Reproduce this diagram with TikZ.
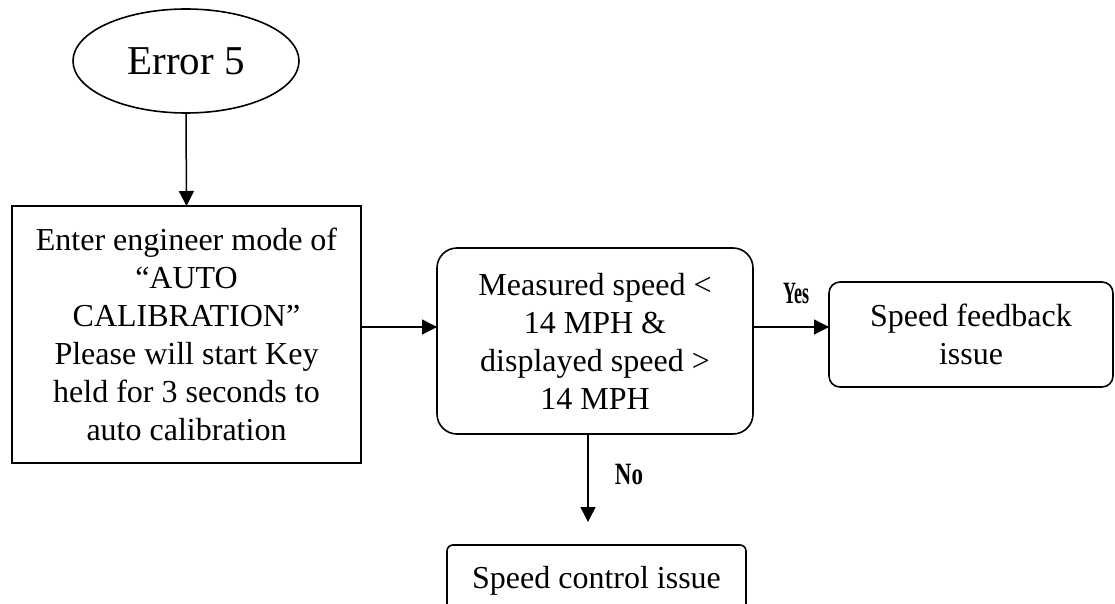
\documentclass[tikz,border=0pt]{standalone}
\usepackage{fontspec}
\setmainfont{Liberation Serif}
\usetikzlibrary{arrows.meta,shapes.geometric}
\begin{document}
\begin{tikzpicture}[x=1pt,y=-1pt,
  every node/.style={inner sep=0pt, outer sep=0pt},
  body/.style={font=\fontsize{32}{38}\selectfont, align=center},
  stepbox/.style={body, draw, line width=1.6pt},
  roundbox/.style={stepbox, rounded corners=#1},
  startnode/.style={ellipse, draw, line width=1.6pt, font=\fontsize{41}{48}\selectfont},
  flow/.style={line width=1.5pt, -{Triangle[length=15pt,width=15pt]}},
  answer/.style={font=\bfseries\fontsize{31}{34}\selectfont}
]
\clip (0,0) rectangle (1115,604);
\fill[white] (0,0) rectangle (1115,604);

\node[startnode, minimum width=226pt, minimum height=104pt] (err) at (186,61) {Error 5};

\node[stepbox, minimum width=349pt, minimum height=257pt] (enter) at (186.5,334.5)
  {Enter engineer mode of\\``AUTO\\CALIBRATION''\\Please will start Key\\held for 3 seconds to\\auto calibration};

\node[roundbox=20pt, minimum width=316pt, minimum height=186pt] (check) at (595,341)
  {Measured speed <\\14 MPH \&\\displayed speed >\\14 MPH};

\node[roundbox=11pt, minimum width=284pt, minimum height=105pt] (feedback) at (971,334.5)
  {Speed feedback\\issue};

\node[roundbox=6pt, minimum width=299pt, minimum height=72pt, anchor=north] (control) at (596.5,545)
  {Speed control issue};

\coordinate (noend) at (588,522);

\draw[flow] (err.south) -- (enter.north);
\draw[flow] (enter.east |- 0,327) -- (check.west |- 0,327);
\draw[flow] (check.east |- 0,327) -- (feedback.west |- 0,327);
\draw[flow] (check.south -| noend) -- (noend);

\node[answer] (yes) at (796,293) {\scalebox{0.58}[1]{Yes}};
\node[answer] (no) at (629,474) {\scalebox{0.74}[1]{No}};
\end{tikzpicture}
\end{document}
